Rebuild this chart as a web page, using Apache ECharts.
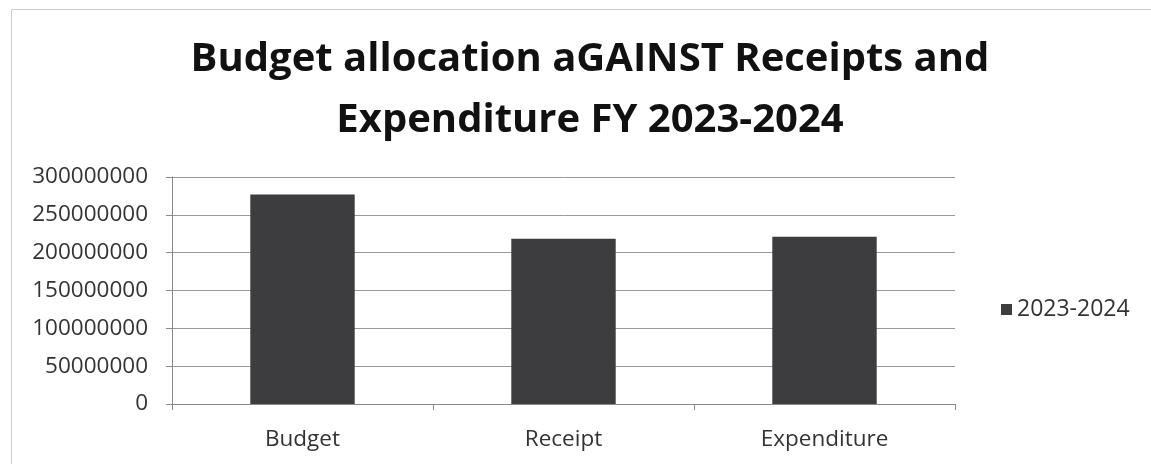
<!DOCTYPE html>
<html>
<head>
<meta charset="utf-8">
<script src="https://cdn.jsdelivr.net/npm/echarts@6/dist/echarts.min.js"></script>
<style>html,body{margin:0;padding:0;background:#fff}#c{width:1151px;height:464px}</style>
</head>
<body>
<div id="c"></div>
<script>
const categories = ['Budget', 'Receipt', 'Expenditure'];
const seriesName = '2023-2024';
const values = [277000000, 218500000, 221000000];
const yTicks = { min: 0, max: 300000000, interval: 50000000 };

const chart = echarts.init(document.getElementById('c'));
chart.setOption({
  backgroundColor: '#fff',
  animation: false,
  title: {
    text: 'Budget allocation aGAINST Receipts and\nExpenditure FY 2023-2024',
    left: 585, top: 24, textAlign: 'center',
    textStyle: { fontFamily: 'Open Sans', fontWeight: 'bold', fontSize: 40, lineHeight: 61, color: '#111' }
  },
  legend: {
    data: [seriesName], orient: 'vertical', left: 996, top: 293,
    itemWidth: 11, itemHeight: 11, icon: 'rect', itemGap: 4,
    textStyle: { fontFamily: 'Open Sans', fontSize: 23, color: '#333' }
  },
  grid: { left: 172, right: 196, top: 177, bottom: 60 },
  xAxis: {
    type: 'category', data: categories,
    axisLine: { lineStyle: { color: '#888' } },
    axisTick: { show: true, length: 6, lineStyle: { color: '#888' } },
    axisLabel: { fontFamily: 'Open Sans', fontSize: 22.5, color: '#333', margin: 24 }
  },
  yAxis: {
    type: 'value', min: yTicks.min, max: yTicks.max, interval: yTicks.interval,
    axisLine: { show: true, lineStyle: { color: '#888' } },
    axisTick: { show: true, length: 6, lineStyle: { color: '#888' } },
    splitLine: { lineStyle: { color: '#999', width: 1 } },
    axisLabel: { fontFamily: 'Open Sans', fontSize: 22.5, color: '#333', margin: 24, formatter: v => String(v) }
  },
  series: [{
    name: seriesName, type: 'bar', data: values,
    barWidth: '40%',
    itemStyle: { color: '#3d3d3f' }
  }],
  graphic: [{
    type: 'rect', left: 9, top: 7,
    shape: { width: 1142, height: 457 },
    style: { fill: 'none', stroke: '#ccc', lineWidth: 1 }, silent: true
  }]
});
</script>
</body>
</html>
